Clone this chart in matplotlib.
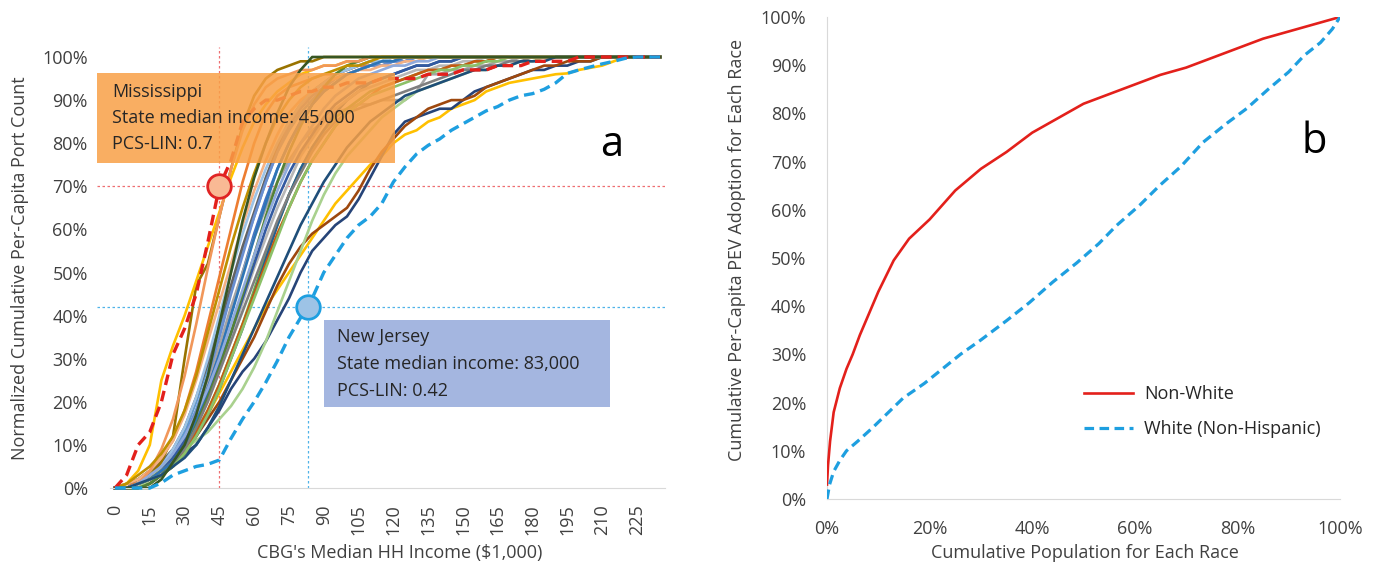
import numpy as np
import matplotlib
matplotlib.use("Agg")
import matplotlib.pyplot as plt
from matplotlib.patches import Rectangle

plt.rcParams['font.family'] = ['Open Sans', 'DejaVu Sans']

# ---- panel a: normalized cumulative per-capita port count by CBG income ----
income = np.arange(0, 240, 5)          # category axis, $1,000
tick_income = np.arange(0, 240, 15)

# state curves (48 values each, income 0..235 step 5)
states = [
    ("#4472C4", [0, 0, 0.01, 0.02, 0.04, 0.07, 0.11, 0.17, 0.24, 0.32, 0.41, 0.50,
                 0.59, 0.67, 0.74, 0.80, 0.85, 0.89, 0.92, 0.94, 0.96, 0.97, 0.98, 0.98,
                 0.99, 0.99, 1, 1, 1, 1, 1, 1, 1, 1, 1, 1,
                 1, 1, 1, 1, 1, 1, 1, 1, 1, 1, 1, 1]),
    ("#ED7D31", [0, 0, 0.02, 0.04, 0.07, 0.11, 0.18, 0.27, 0.38, 0.49, 0.60, 0.71,
                 0.80, 0.87, 0.91, 0.93, 0.94, 0.95, 0.96, 0.96, 0.97, 0.98, 0.98, 0.99,
                 0.99, 1, 1, 1, 1, 1, 1, 1, 1, 1, 1, 1,
                 1, 1, 1, 1, 1, 1, 1, 1, 1, 1, 1, 1]),
    ("#A5A5A5", [0, 0.01, 0.02, 0.03, 0.05, 0.08, 0.12, 0.18, 0.25, 0.33, 0.42, 0.50,
                 0.58, 0.65, 0.71, 0.76, 0.80, 0.83, 0.85, 0.87, 0.88, 0.89, 0.89, 0.90,
                 0.90, 0.90, 0.92, 0.96, 0.96, 0.97, 0.97, 0.98, 0.98, 0.99, 0.99, 1,
                 1, 1, 1, 1, 1, 1, 1, 1, 1, 1, 1, 1]),
    ("#FFC000", [0, 0, 0, 0.01, 0.03, 0.05, 0.08, 0.12, 0.17, 0.22, 0.27, 0.32,
                 0.37, 0.42, 0.46, 0.50, 0.54, 0.58, 0.62, 0.66, 0.69, 0.72, 0.75, 0.77,
                 0.80, 0.82, 0.83, 0.85, 0.86, 0.88, 0.89, 0.90, 0.92, 0.93, 0.94, 0.945,
                 0.95, 0.955, 0.96, 0.962, 0.97, 0.975, 0.98, 0.99, 1, 1, 1, 1]),
    ("#5B9BD5", [0, 0, 0.01, 0.02, 0.05, 0.08, 0.13, 0.20, 0.28, 0.37, 0.46, 0.55,
                 0.63, 0.71, 0.78, 0.83, 0.87, 0.90, 0.93, 0.95, 0.96, 0.97, 0.98, 0.99,
                 0.99, 1, 1, 1, 1, 1, 1, 1, 1, 1, 1, 1,
                 1, 1, 1, 1, 1, 1, 1, 1, 1, 1, 1, 1]),
    ("#70AD47", [0, 0, 0, 0.02, 0.04, 0.06, 0.09, 0.13, 0.18, 0.24, 0.31, 0.38,
                 0.46, 0.54, 0.61, 0.68, 0.74, 0.79, 0.83, 0.86, 0.88, 0.90, 0.92, 0.93,
                 0.94, 0.95, 0.96, 0.97, 0.97, 0.98, 0.98, 0.99, 0.99, 1, 1, 1,
                 1, 1, 1, 1, 1, 1, 1, 1, 1, 1, 1, 1]),
    ("#264478", [0, 0, 0.01, 0.03, 0.05, 0.06, 0.08, 0.10, 0.14, 0.18, 0.23, 0.27,
                 0.30, 0.34, 0.39, 0.44, 0.50, 0.55, 0.58, 0.61, 0.63, 0.67, 0.72, 0.77,
                 0.82, 0.85, 0.86, 0.87, 0.88, 0.88, 0.90, 0.92, 0.93, 0.94, 0.95, 0.96,
                 0.97, 0.97, 0.98, 0.98, 0.99, 0.99, 1, 1, 1, 1, 1, 1]),
    ("#9E480E", [0, 0, 0, 0.01, 0.03, 0.05, 0.08, 0.12, 0.16, 0.20, 0.25, 0.30,
                 0.35, 0.41, 0.47, 0.52, 0.56, 0.59, 0.61, 0.63, 0.65, 0.69, 0.74, 0.78,
                 0.81, 0.84, 0.86, 0.88, 0.89, 0.90, 0.90, 0.91, 0.93, 0.94, 0.95, 0.96,
                 0.97, 0.98, 0.98, 0.99, 0.99, 0.99, 1, 1, 1, 1, 1, 1]),
    ("#636363", [0, 0.01, 0.02, 0.04, 0.06, 0.09, 0.14, 0.21, 0.29, 0.38, 0.47, 0.56,
                 0.64, 0.72, 0.79, 0.85, 0.89, 0.92, 0.94, 0.96, 0.97, 0.98, 0.99, 0.99,
                 1, 1, 1, 1, 1, 1, 1, 1, 1, 1, 1, 1,
                 1, 1, 1, 1, 1, 1, 1, 1, 1, 1, 1, 1]),
    ("#997300", [0, 0, 0.01, 0.03, 0.06, 0.12, 0.30, 0.47, 0.52, 0.63, 0.74, 0.84,
                 0.91, 0.95, 0.97, 0.98, 0.99, 0.99, 1, 1, 1, 1, 1, 1,
                 1, 1, 1, 1, 1, 1, 1, 1, 1, 1, 1, 1,
                 1, 1, 1, 1, 1, 1, 1, 1, 1, 1, 1, 1]),
    ("#255E91", [0, 0, 0, 0.01, 0.03, 0.05, 0.08, 0.12, 0.17, 0.23, 0.30, 0.37,
                 0.45, 0.53, 0.61, 0.68, 0.74, 0.79, 0.83, 0.87, 0.90, 0.92, 0.94, 0.95,
                 0.96, 0.97, 0.98, 0.98, 0.99, 0.99, 1, 1, 1, 1, 1, 1,
                 1, 1, 1, 1, 1, 1, 1, 1, 1, 1, 1, 1]),
    ("#698ED0", [0, 0, 0.01, 0.02, 0.04, 0.07, 0.12, 0.18, 0.26, 0.35, 0.45, 0.54,
                 0.63, 0.71, 0.78, 0.84, 0.88, 0.91, 0.93, 0.95, 0.96, 0.97, 0.98, 0.98,
                 0.99, 0.99, 1, 1, 1, 1, 1, 1, 1, 1, 1, 1,
                 1, 1, 1, 1, 1, 1, 1, 1, 1, 1, 1, 1]),
    ("#F4B183", [0, 0.01, 0.02, 0.04, 0.07, 0.11, 0.17, 0.25, 0.34, 0.43, 0.52, 0.61,
                 0.69, 0.76, 0.82, 0.87, 0.90, 0.92, 0.94, 0.95, 0.96, 0.97, 0.97, 0.98,
                 0.98, 0.99, 0.99, 1, 1, 1, 1, 1, 1, 1, 1, 1,
                 1, 1, 1, 1, 1, 1, 1, 1, 1, 1, 1, 1]),
    ("#B7B7B7", [0, 0, 0.01, 0.02, 0.04, 0.06, 0.10, 0.15, 0.21, 0.28, 0.35, 0.43,
                 0.51, 0.58, 0.65, 0.71, 0.77, 0.81, 0.85, 0.88, 0.90, 0.92, 0.93, 0.94,
                 0.95, 0.96, 0.97, 0.97, 0.98, 0.98, 0.99, 0.99, 1, 1, 1, 1,
                 1, 1, 1, 1, 1, 1, 1, 1, 1, 1, 1, 1]),
    ("#FFC000", [0, 0.01, 0.04, 0.10, 0.25, 0.33, 0.40, 0.48, 0.56, 0.64, 0.72, 0.79,
                 0.85, 0.89, 0.92, 0.94, 0.96, 0.97, 0.98, 0.98, 0.99, 0.99, 1, 1,
                 1, 1, 1, 1, 1, 1, 1, 1, 1, 1, 1, 1,
                 1, 1, 1, 1, 1, 1, 1, 1, 1, 1, 1, 1]),
    ("#9DC3E6", [0, 0, 0.01, 0.02, 0.05, 0.09, 0.14, 0.21, 0.30, 0.40, 0.50, 0.59,
                 0.67, 0.74, 0.80, 0.85, 0.89, 0.92, 0.94, 0.96, 0.97, 0.98, 0.99, 0.99,
                 1, 1, 1, 1, 1, 1, 1, 1, 1, 1, 1, 1,
                 1, 1, 1, 1, 1, 1, 1, 1, 1, 1, 1, 1]),
    ("#A9D18E", [0, 0, 0, 0.02, 0.05, 0.07, 0.09, 0.11, 0.13, 0.16, 0.19, 0.23,
                 0.28, 0.34, 0.41, 0.48, 0.55, 0.62, 0.68, 0.73, 0.77, 0.80, 0.83, 0.86,
                 0.88, 0.90, 0.92, 0.93, 0.94, 0.95, 0.96, 0.97, 0.97, 0.98, 0.98, 0.99,
                 0.99, 1, 1, 1, 1, 1, 1, 1, 1, 1, 1, 1]),
    ("#335AA1", [0, 0, 0.01, 0.02, 0.04, 0.07, 0.11, 0.16, 0.22, 0.29, 0.36, 0.44,
                 0.52, 0.60, 0.67, 0.73, 0.78, 0.82, 0.86, 0.89, 0.91, 0.93, 0.94, 0.95,
                 0.96, 0.97, 0.98, 0.98, 0.99, 0.99, 1, 1, 1, 1, 1, 1,
                 1, 1, 1, 1, 1, 1, 1, 1, 1, 1, 1, 1]),
    ("#C55A11", [0, 0, 0.01, 0.02, 0.04, 0.06, 0.09, 0.13, 0.18, 0.24, 0.31, 0.38,
                 0.45, 0.52, 0.59, 0.65, 0.71, 0.76, 0.80, 0.84, 0.87, 0.89, 0.91, 0.93,
                 0.94, 0.95, 0.96, 0.97, 0.97, 0.98, 0.98, 0.99, 0.99, 1, 1, 1,
                 1, 1, 1, 1, 1, 1, 1, 1, 1, 1, 1, 1]),
    ("#548235", [0, 0, 0, 0.01, 0.03, 0.06, 0.10, 0.15, 0.21, 0.28, 0.36, 0.45,
                 0.54, 0.63, 0.71, 0.78, 0.84, 0.89, 0.93, 0.96, 0.98, 0.99, 1, 1,
                 1, 1, 1, 1, 1, 1, 1, 1, 1, 1, 1, 1,
                 1, 1, 1, 1, 1, 1, 1, 1, 1, 1, 1, 1]),
    ("#7F7F7F", [0, 0, 0.01, 0.02, 0.04, 0.06, 0.09, 0.14, 0.20, 0.27, 0.34, 0.41,
                 0.48, 0.55, 0.62, 0.68, 0.73, 0.78, 0.82, 0.85, 0.87, 0.88, 0.89, 0.90,
                 0.91, 0.92, 0.93, 0.94, 0.95, 0.96, 0.97, 0.97, 0.98, 0.98, 0.99, 0.99,
                 1, 1, 1, 1, 1, 1, 1, 1, 1, 1, 1, 1]),
    ("#2E75B6", [0, 0, 0.01, 0.02, 0.04, 0.06, 0.10, 0.16, 0.23, 0.31, 0.40, 0.49,
                 0.58, 0.66, 0.74, 0.80, 0.85, 0.89, 0.92, 0.94, 0.96, 0.97, 0.98, 0.99,
                 0.99, 1, 1, 1, 1, 1, 1, 1, 1, 1, 1, 1,
                 1, 1, 1, 1, 1, 1, 1, 1, 1, 1, 1, 1]),
    ("#8CC168", [0, 0, 0.01, 0.02, 0.03, 0.05, 0.08, 0.12, 0.17, 0.23, 0.30, 0.37,
                 0.44, 0.51, 0.58, 0.65, 0.71, 0.76, 0.80, 0.84, 0.87, 0.89, 0.91, 0.92,
                 0.93, 0.94, 0.95, 0.96, 0.97, 0.97, 0.98, 0.98, 0.99, 0.99, 1, 1,
                 1, 1, 1, 1, 1, 1, 1, 1, 1, 1, 1, 1]),
    ("#F1975A", [0, 0, 0.01, 0.04, 0.09, 0.16, 0.26, 0.38, 0.51, 0.63, 0.74, 0.83,
                 0.89, 0.93, 0.95, 0.96, 0.97, 0.97, 0.98, 0.98, 0.99, 0.99, 1, 1,
                 1, 1, 1, 1, 1, 1, 1, 1, 1, 1, 1, 1,
                 1, 1, 1, 1, 1, 1, 1, 1, 1, 1, 1, 1]),
    ("#8FAADC", [0, 0, 0.01, 0.03, 0.05, 0.08, 0.12, 0.17, 0.23, 0.30, 0.38, 0.46,
                 0.54, 0.62, 0.69, 0.75, 0.80, 0.84, 0.88, 0.91, 0.93, 0.95, 0.96, 0.97,
                 0.98, 0.98, 0.99, 0.99, 1, 1, 1, 1, 1, 1, 1, 1,
                 1, 1, 1, 1, 1, 1, 1, 1, 1, 1, 1, 1]),
    ("#BF9000", [0, 0.01, 0.03, 0.05, 0.08, 0.12, 0.18, 0.26, 0.36, 0.46, 0.56, 0.65,
                 0.73, 0.80, 0.86, 0.90, 0.93, 0.95, 0.96, 0.97, 0.98, 0.98, 0.99, 1,
                 1, 1, 1, 1, 1, 1, 1, 1, 1, 1, 1, 1,
                 1, 1, 1, 1, 1, 1, 1, 1, 1, 1, 1, 1]),
    ("#1F4E79", [0, 0, 0.01, 0.02, 0.03, 0.05, 0.07, 0.10, 0.14, 0.19, 0.25, 0.31,
                 0.37, 0.43, 0.49, 0.55, 0.61, 0.66, 0.71, 0.75, 0.79, 0.82, 0.85, 0.87,
                 0.89, 0.91, 0.92, 0.93, 0.94, 0.95, 0.96, 0.97, 0.97, 0.98, 0.98, 0.99,
                 0.99, 0.99, 1, 1, 1, 1, 1, 1, 1, 1, 1, 1]),
    ("#375623", [0, 0, 0, 0, 0.02, 0.06, 0.10, 0.17, 0.26, 0.38, 0.50, 0.62,
                 0.72, 0.80, 0.87, 0.93, 0.97, 1, 1, 1, 1, 1, 1, 1,
                 1, 1, 1, 1, 1, 1, 1, 1, 1, 1, 1, 1,
                 1, 1, 1, 1, 1, 1, 1, 1, 1, 1, 1, 1]),
]

mississippi = [0, 0.03, 0.10, 0.13, 0.20, 0.31, 0.37, 0.45, 0.57, 0.70, 0.76, 0.85,
               0.88, 0.90, 0.90, 0.91, 0.92, 0.92, 0.93, 0.93, 0.94, 0.94, 0.94, 0.95,
               0.95, 0.95, 0.95, 0.96, 0.96, 0.96, 0.97, 0.97, 0.97, 0.98, 0.98, 0.98,
               0.99, 0.99, 0.99, 0.99, 1, 1, 1, 1, 1, 1, 1, 1]
new_jersey = [0, 0, 0, 0, 0.012, 0.03, 0.04, 0.05, 0.055, 0.065, 0.115, 0.16,
              0.20, 0.245, 0.295, 0.35, 0.395, 0.44, 0.50, 0.54, 0.58, 0.61, 0.63, 0.66,
              0.71, 0.745, 0.775, 0.795, 0.81, 0.83, 0.845, 0.86, 0.875, 0.885, 0.90, 0.91,
              0.915, 0.925, 0.94, 0.962, 0.97, 0.977, 0.984, 0.99, 0.997, 1, 1, 1]

ms_income, ms_pcs = 45, 0.70
nj_income, nj_pcs = 83, 0.42

# ---- panel b: cumulative PEV adoption by race ----
nonwhite_x = [0, 0.002, 0.006, 0.013, 0.025, 0.038, 0.05, 0.064, 0.08, 0.10, 0.13, 0.16,
              0.20, 0.25, 0.30, 0.35, 0.40, 0.45, 0.50, 0.55, 0.60, 0.65, 0.70, 0.75,
              0.80, 0.85, 0.90, 0.95, 1.0]
nonwhite_y = [0.03, 0.07, 0.12, 0.18, 0.23, 0.27, 0.30, 0.34, 0.38, 0.43, 0.495, 0.54,
              0.58, 0.64, 0.685, 0.72, 0.76, 0.79, 0.82, 0.84, 0.86, 0.88, 0.895, 0.915,
              0.935, 0.955, 0.97, 0.985, 1.0]
white_x = [0, 0.005, 0.013, 0.025, 0.038, 0.06, 0.089, 0.12, 0.148, 0.19, 0.225, 0.26,
           0.30, 0.35, 0.394, 0.44, 0.487, 0.53, 0.564, 0.61, 0.648, 0.69, 0.733, 0.78,
           0.818, 0.86, 0.90, 0.93, 0.962, 0.985, 1.0]
white_y = [0, 0.03, 0.057, 0.08, 0.10, 0.12, 0.148, 0.18, 0.209, 0.24, 0.27, 0.30,
           0.33, 0.37, 0.407, 0.45, 0.49, 0.53, 0.567, 0.61, 0.65, 0.69, 0.74, 0.78,
           0.81, 0.85, 0.886, 0.92, 0.947, 0.975, 1.0]

txt = '#404040'
spine_c = '#D9D9D9'
W, H = 1375, 573

fig = plt.figure(figsize=(13.75, 5.73), dpi=100)

# ---------------- panel a ----------------
ax = fig.add_axes([110 / W, 85 / H, 555 / W, 431 / H])
for col, vals in states:
    ax.plot(income, vals, color=col, lw=1.9, solid_joinstyle='round', zorder=2, clip_on=False)
ax.plot(income, mississippi, color='#E3201B', lw=2.4, dashes=(3.2, 1.8), zorder=3, clip_on=False)
ax.plot(income, new_jersey, color='#1E9FE0', lw=2.4, dashes=(3.2, 1.8), zorder=3, clip_on=False)

ax.set_xlim(-2.16, 237.1)
ax.set_ylim(0, 1)
for s in ['top', 'right', 'left']:
    ax.spines[s].set_visible(False)
ax.spines['bottom'].set_color(spine_c)
ax.set_xticks(tick_income)
ax.set_xticklabels([str(v) for v in tick_income], rotation=90)
ax.set_yticks(np.arange(0, 1.01, 0.1))
ax.set_yticklabels(['%d%%' % round(v * 100) for v in np.arange(0, 1.01, 0.1)])
ax.tick_params(axis='both', length=0, labelsize=13, labelcolor=txt)
ax.tick_params(axis='y', pad=16)
ax.tick_params(axis='x', pad=12)

# guide lines through the two highlighted states
ax.plot([ms_income, ms_income], [0, 1.023], color='#EE6E70', lw=0.9, ls=(0, (2, 2)), zorder=1, clip_on=False)
ax.plot([-7.8, 238], [ms_pcs, ms_pcs], color='#EE6E70', lw=0.9, ls=(0, (2, 2)), zorder=1, clip_on=False)
ax.plot([nj_income, nj_income], [0, 1.023], color='#4FB3E8', lw=0.9, ls=(0, (2, 2)), zorder=1, clip_on=False)
ax.plot([-7.8, 238], [nj_pcs, nj_pcs], color='#4FB3E8', lw=0.9, ls=(0, (2, 2)), zorder=1, clip_on=False)

ax.plot(ms_income, ms_pcs, 'o', ms=17, mfc='#F9B994', mec='#E02424', mew=2, zorder=8, clip_on=False)
ax.plot(nj_income, nj_pcs, 'o', ms=17, mfc='#9DC3E6', mec='#1E9FE0', mew=2, zorder=8, clip_on=False)

ax.add_patch(Rectangle((-7.8, 0.754), 128.5, 0.209, facecolor='#F8A046', alpha=0.85,
                       edgecolor='none', zorder=5, clip_on=False))
ax.text(-1.3, 0.919, 'Mississippi', fontsize=13, color='#262626', va='center', zorder=6)
ax.text(-1.3, 0.858, 'State median income: 45,000', fontsize=13, color='#262626', va='center', zorder=6)
ax.text(-1.3, 0.798, 'PCS-LIN: 0.7', fontsize=13, color='#262626', va='center', zorder=6)

ax.add_patch(Rectangle((90, 0.188), 123.3, 0.202, facecolor='#A4B6E0',
                       edgecolor='none', zorder=5, clip_on=False))
ax.text(95.7, 0.350, 'New Jersey', fontsize=13, color='#262626', va='center', zorder=6)
ax.text(95.7, 0.288, 'State median income: 83,000', fontsize=13, color='#262626', va='center', zorder=6)
ax.text(95.7, 0.225, 'PCS-LIN: 0.42', fontsize=13, color='#262626', va='center', zorder=6)

ax.text(214, 0.796, 'a', fontsize=30, color='black', ha='center', va='center')

fig.text(400 / W, 1 - 553 / H, "CBG's Median HH Income ($1,000)", fontsize=13, color=txt,
         ha='center', va='center')
fig.text(20 / W, 1 - 268 / H, 'Normalized Cumulative Per-Capita Port Count', fontsize=13,
         color=txt, ha='center', va='center', rotation=90)

# ---------------- panel b ----------------
bx = fig.add_axes([827 / W, 74 / H, 513 / W, 482 / H])
bx.plot(nonwhite_x, nonwhite_y, color='#E3201B', lw=1.9, label='Non-White', zorder=3)
bx.plot(white_x, white_y, color='#1E9FE0', lw=2.3, dashes=(3, 1.7), label='White (Non-Hispanic)', zorder=3)
bx.set_xlim(0, 1)
bx.set_ylim(0, 1)
for s in ['top', 'right']:
    bx.spines[s].set_visible(False)
for s in ['left', 'bottom']:
    bx.spines[s].set_color(spine_c)
bx.set_xticks(np.arange(0, 1.01, 0.2))
bx.set_xticklabels(['%d%%' % round(v * 100) for v in np.arange(0, 1.01, 0.2)])
bx.set_yticks(np.arange(0, 1.01, 0.1))
bx.set_yticklabels(['%d%%' % round(v * 100) for v in np.arange(0, 1.01, 0.1)])
bx.tick_params(axis='both', length=0, labelsize=13, labelcolor=txt)
bx.tick_params(axis='y', pad=15)
bx.tick_params(axis='x', pad=15)

bx.legend(loc='upper left', bbox_to_anchor=(0.47, 0.27), frameon=False, fontsize=13,
          handlelength=2.7, handletextpad=0.6, labelspacing=0.95, labelcolor='#262626')

bx.text(0.95, 0.74, 'b', fontsize=30, color='black', ha='center', va='center', transform=bx.transAxes)

fig.text(1085 / W, 1 - 553 / H, 'Cumulative Population for Each Race', fontsize=13, color=txt,
         ha='center', va='center')
fig.text(737 / W, 1 - 250 / H, 'Cumulative Per-Capita PEV Adoption for Each Race', fontsize=13,
         color=txt, ha='center', va='center', rotation=90)

fig.savefig('out.png', dpi=100)
